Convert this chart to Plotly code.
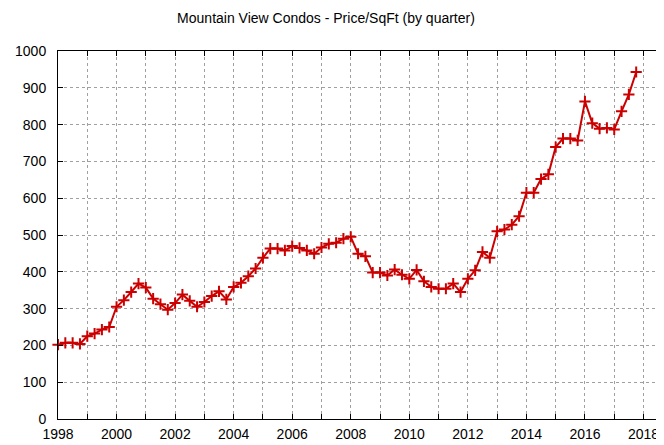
import plotly.graph_objects as go

years = [1998 + q / 4 for q in range(80)]
price = [
    202, 207, 207, 204,
    225, 232, 243, 250,
    305, 323, 345, 368,
    357, 327, 312, 297,
    315, 338, 321, 305,
    318, 334, 347, 325,
    359, 370, 388, 409,
    438, 463, 463, 458,
    470, 465, 458, 449,
    466, 476, 479, 490,
    495, 449, 442, 398,
    398, 390, 406, 392,
    381, 405, 374, 359,
    354, 354, 368, 345,
    381, 404, 454, 438,
    510, 515, 528, 551,
    615, 615, 652, 665,
    739, 762, 762, 757,
    863, 804, 789, 791,
    787, 836, 882, 943,
]
x_ticks = list(range(1998, 2019))
x_labels = [str(y) if y % 2 == 0 else "" for y in x_ticks]
y_ticks = list(range(0, 1001, 100))

# page body has an 8px margin, so the figure is sized to end at the window edge
W, H = 656, 437

fig = go.Figure()
fig.add_trace(go.Scatter(
    x=years, y=price, mode="lines+markers",
    line=dict(color="#cc0000", width=2),
    marker=dict(symbol="cross-thin", size=8, line=dict(color="#cc0000", width=2), color="#cc0000"),
    showlegend=False, cliponaxis=False,
))

fig.update_layout(
    width=W, height=H,
    margin=dict(l=50, r=0, t=43, b=26, autoexpand=False),
    paper_bgcolor="white", plot_bgcolor="white",
    font=dict(family="Liberation Sans, Arial, sans-serif", size=14, color="black"),
    title=dict(text="Mountain View Condos - Price/SqFt (by quarter)", x=318 / W, xanchor="center",
               y=1 - 10 / H, yanchor="middle", font=dict(size=14, color="black")),
)
fig.update_xaxes(
    range=[1998, 2018.7], tickvals=x_ticks, ticktext=x_labels,
    showgrid=True, gridcolor="#a0a0a0", griddash="dot", gridwidth=1,
    ticks="inside", ticklen=5, tickcolor="black", tickwidth=1,
    showline=True, linecolor="black", linewidth=1, mirror="ticks",
    zeroline=False, ticklabelstandoff=2, automargin=False,
)
fig.update_yaxes(
    range=[0, 1000], tickvals=y_ticks,
    showgrid=True, gridcolor="#a0a0a0", griddash="dot", gridwidth=1,
    ticks="inside", ticklen=5, tickcolor="black", tickwidth=1,
    showline=True, linecolor="black", linewidth=1, mirror=False,
    zeroline=False, ticklabelstandoff=8, automargin=False,
)
fig.write_html("out.html")
